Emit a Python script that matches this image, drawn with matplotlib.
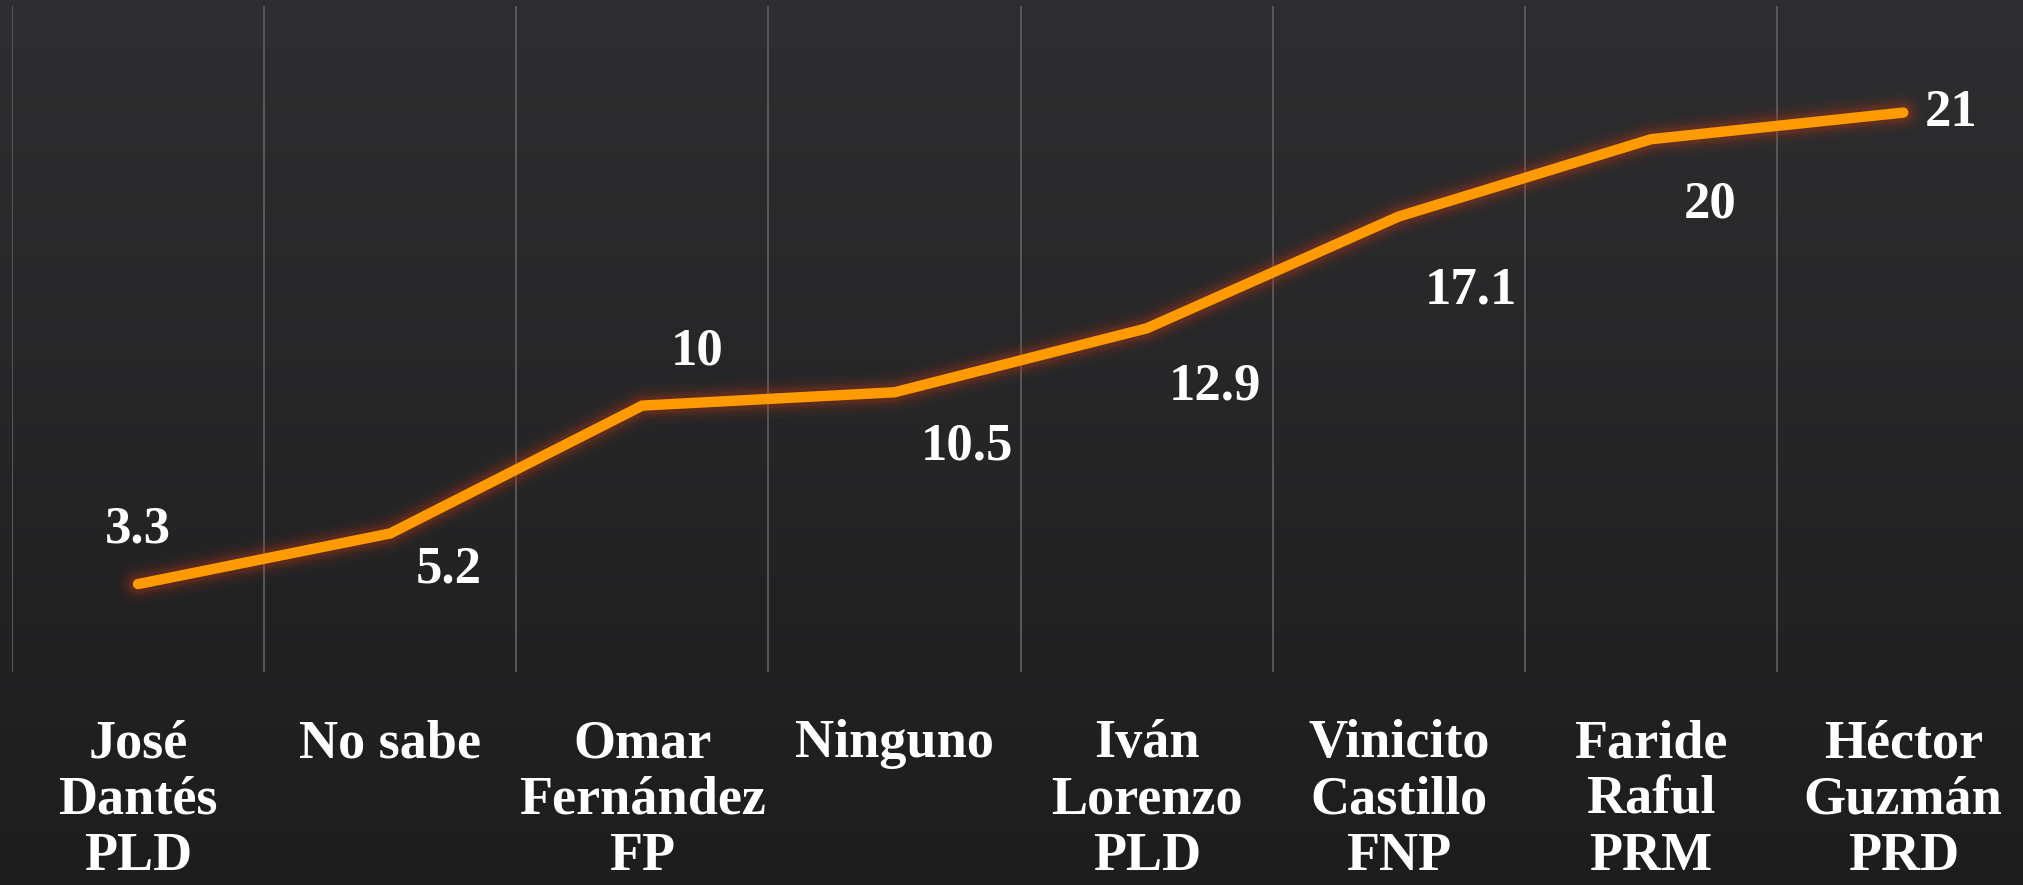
import numpy as np
import matplotlib
matplotlib.use("Agg")
import matplotlib.pyplot as plt

categories = ["José\nDantés\nPLD", "No sabe", "Omar\nFernández\nFP", "Ninguno",
              "Iván\nLorenzo\nPLD", "Vinicito\nCastillo\nFNP", "Faride\nRaful\nPRM",
              "Héctor\nGuzmán\nPRD"]
values = [3.3, 5.2, 10, 10.5, 12.9, 17.1, 20, 21]
value_labels = ["3.3", "5.2", "10", "10.5", "12.9", "17.1", "20", "21"]
# label offsets (pixels) relative to the point
label_offsets = [(0, 55), (59, -36), (55, 54), (72, -54), (68, -58), (72, -74), (59, -65), (48, 0)]

W, H = 2023, 885
fig = plt.figure(figsize=(W / 100, H / 100), dpi=100)

# background gradient
bg = fig.add_axes([0, 0, 1, 1], zorder=-10)
grad = np.linspace(0, 1, 256).reshape(-1, 1)
top = np.array([0x2e, 0x2e, 0x30]) / 255
bot = np.array([0x1d, 0x1d, 0x1e]) / 255
img = top[None, None, :] * (1 - grad[:, :, None]) + bot[None, None, :] * grad[:, :, None]
bg.imshow(img, aspect="auto", extent=[0, 1, 0, 1], origin="upper")
bg.set_axis_off()

left = 11.9 / W
width = 2017.5 / W
bottom = (H - 672) / H
height = (672 - 6) / H
ax = fig.add_axes([left, bottom, width, height])
ax.set_facecolor("none")
x = np.arange(len(categories))
ax.set_xlim(-0.5, len(categories) - 0.5)
ax.set_ylim(0, 25)

ax.set_xticks(np.arange(-0.5, len(categories) + 0.5, 1), minor=True)
ax.grid(which="minor", axis="x", color="#5c5c5e", linewidth=1.3)
ax.set_xticks(x)
ax.set_xticklabels(categories, fontfamily="Liberation Serif", fontweight="bold",
                   fontsize=39, color="white", linespacing=1.17, va="top")
ax.tick_params(axis="x", which="both", length=0, pad=34)
ax.set_yticks([])
for s in ax.spines.values():
    s.set_visible(False)

# glow
for lw, a in [(28, 0.05), (22, 0.08), (17, 0.12), (13, 0.18)]:
    ax.plot(x, values, color="#b83a18", linewidth=lw, alpha=a,
            solid_capstyle="round", solid_joinstyle="round", zorder=2)
ax.plot(x, values, color="#ff9a00", linewidth=7.5, solid_capstyle="round",
        solid_joinstyle="miter", zorder=3)

for xi, v, lab, off in zip(x, values, value_labels, label_offsets):
    ax.annotate(lab, (xi, v), xytext=off, textcoords="offset pixels",
                ha="center", va="center", fontfamily="Liberation Serif",
                fontweight="bold", fontsize=38, color="white", zorder=4)

fig.savefig("out.png", dpi=100)
